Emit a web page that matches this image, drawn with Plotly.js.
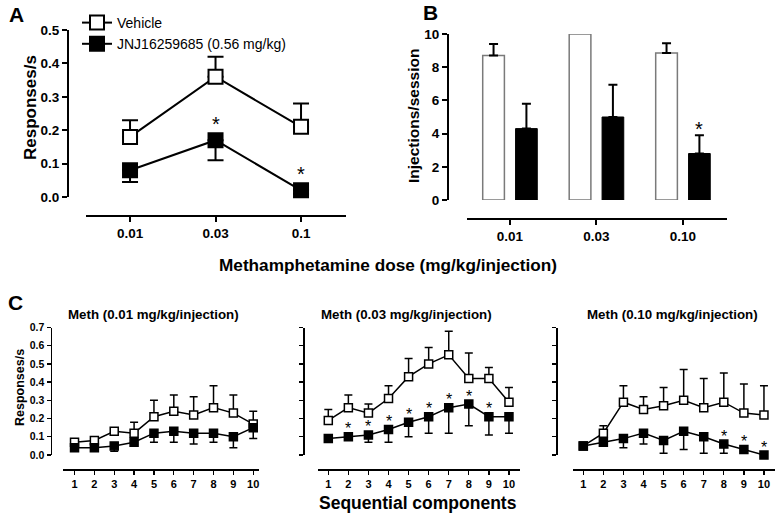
<!DOCTYPE html>
<html>
<head>
<meta charset="utf-8">
<script src="https://cdn.plot.ly/plotly-3.0.1.min.js"></script>
<style>html,body{margin:0;padding:0;background:#fff;}#chart{width:776px;height:513px;}</style>
</head>
<body>
<div id="chart"></div>
<script>
// ---------- DATA ----------
// Panel A: responses/s by meth dose
const doseLabelsA = ['0.01', '0.03', '0.1'];
const aVehMean = [0.18, 0.36, 0.21];
const aVehSem  = [0.05, 0.06, 0.07];
const aJnjMean = [0.08, 0.17, 0.02];
const aJnjSem  = [0.035, 0.06, 0.01];
const aSig     = [false, true, true];

// Panel B: injections/session
const doseLabelsB = ['0.01', '0.03', '0.10'];
const bVehMean = [8.7, 10.0, 8.85];
const bVehSem  = [0.7, 0, 0.6];
const bJnjMean = [4.3, 5.0, 2.8];
const bJnjSem  = [1.5, 1.95, 1.1];
const bSig     = [false, false, true];

// Panel C: sequential components
const components = [1, 2, 3, 4, 5, 6, 7, 8, 9, 10];
const cTitles = ['Meth (0.01 mg/kg/injection)', 'Meth (0.03 mg/kg/injection)', 'Meth (0.10 mg/kg/injection)'];
const c1VehMean = [0.07, 0.08, 0.13, 0.12, 0.21, 0.24, 0.22, 0.26, 0.23, 0.17];
const c1VehSem  = [0.01, 0.01, 0.01, 0.06, 0.09, 0.09, 0.10, 0.12, 0.10, 0.07];
const c1JnjMean = [0.04, 0.04, 0.05, 0.07, 0.12, 0.13, 0.12, 0.12, 0.10, 0.15];
const c1JnjSem  = [0.01, 0.01, 0.03, 0.01, 0.05, 0.06, 0.06, 0.05, 0.06, 0.06];
const c1Sig     = [0, 0, 0, 0, 0, 0, 0, 0, 0, 0];

const c2VehMean = [0.19, 0.26, 0.23, 0.31, 0.43, 0.50, 0.55, 0.42, 0.42, 0.29];
const c2VehSem  = [0.06, 0.07, 0.05, 0.07, 0.10, 0.09, 0.13, 0.14, 0.06, 0.08];
const c2JnjMean = [0.09, 0.10, 0.11, 0.14, 0.18, 0.21, 0.26, 0.28, 0.21, 0.21];
const c2JnjSem  = [0.01, 0.01, 0.04, 0.07, 0.08, 0.09, 0.14, 0.12, 0.10, 0.09];
const c2Sig     = [0, 1, 1, 1, 1, 1, 1, 1, 1, 0];

const c3VehMean = [0.05, 0.12, 0.29, 0.25, 0.27, 0.30, 0.26, 0.29, 0.23, 0.22];
const c3VehSem  = [0.01, 0.04, 0.09, 0.07, 0.10, 0.17, 0.16, 0.16, 0.16, 0.16];
const c3JnjMean = [0.05, 0.07, 0.09, 0.12, 0.08, 0.13, 0.10, 0.06, 0.03, 0.00];
const c3JnjSem  = [0.01, 0.01, 0.05, 0.06, 0.07, 0.10, 0.09, 0.05, 0.01, 0.01];
const c3Sig     = [0, 0, 0, 0, 0, 0, 0, 1, 1, 1];

// ---------- HELPERS ----------
const W = 776, H = 513;
const FONT = 'Liberation Sans, Arial, Helvetica, sans-serif';
const px = v => v / W;            // x pixel -> paper
const py = v => 1 - v / H;        // y pixel -> paper
const nz = v => (v > 0 ? v : NaN);

function errUp(sem, thick, w) {
  return {type: 'data', symmetric: false, array: sem.map(nz), arrayminus: sem.map(v => (v > 0 ? 0 : NaN)),
          color: '#000', thickness: thick, width: w};
}
function errDown(sem, thick, w) {
  return {type: 'data', symmetric: false, array: sem.map(v => (v > 0 ? 0 : NaN)), arrayminus: sem.map(nz),
          color: '#000', thickness: thick, width: w};
}

const traces = [];

// Panel A
traces.push({
  type: 'scatter', mode: 'lines+markers', name: 'Vehicle', x: doseLabelsA, y: aVehMean,
  xaxis: 'x', yaxis: 'y', cliponaxis: false,
  line: {color: '#000', width: 2},
  marker: {symbol: 'square', size: 14, color: '#fff', line: {color: '#000', width: 2}},
  error_y: errUp(aVehSem, 2, 8)
});
traces.push({
  type: 'scatter', mode: 'lines+markers', name: 'JNJ16259685 (0.56 mg/kg)', x: doseLabelsA, y: aJnjMean,
  xaxis: 'x', yaxis: 'y', cliponaxis: false,
  line: {color: '#000', width: 2},
  marker: {symbol: 'square', size: 14, color: '#000', line: {color: '#000', width: 2}},
  error_y: errDown(aJnjSem, 2, 8)
});

// Panel B
traces.push({
  type: 'bar', name: 'Vehicle', x: doseLabelsB, y: bVehMean, xaxis: 'x2', yaxis: 'y2', showlegend: false,
  marker: {color: '#fff', line: {color: '#7a7a7a', width: 1.5}},
  error_y: errUp(bVehSem, 2, 4.5)
});
traces.push({
  type: 'bar', name: 'JNJ16259685 (0.56 mg/kg)', x: doseLabelsB, y: bJnjMean, xaxis: 'x2', yaxis: 'y2', showlegend: false,
  marker: {color: '#000', line: {color: '#000', width: 1}},
  error_y: errUp(bJnjSem, 2, 4.5)
});

// Panel C
const cSets = [
  [c1VehMean, c1VehSem, c1JnjMean, c1JnjSem, c1Sig],
  [c2VehMean, c2VehSem, c2JnjMean, c2JnjSem, c2Sig],
  [c3VehMean, c3VehSem, c3JnjMean, c3JnjSem, c3Sig]
];
cSets.forEach((s, k) => {
  const xa = 'x' + (k + 3), ya = 'y' + (k + 3);
  traces.push({
    type: 'scatter', mode: 'lines+markers', name: 'Vehicle', x: components, y: s[0], xaxis: xa, yaxis: ya,
    showlegend: false, cliponaxis: false,
    line: {color: '#000', width: 1.5},
    marker: {symbol: 'square', size: 8, color: '#fff', line: {color: '#000', width: 1.5}},
    error_y: errUp(s[1], 1.5, 4)
  });
  traces.push({
    type: 'scatter', mode: 'lines+markers', name: 'JNJ16259685 (0.56 mg/kg)', x: components, y: s[2], xaxis: xa, yaxis: ya,
    showlegend: false, cliponaxis: false,
    line: {color: '#000', width: 1.5},
    marker: {symbol: 'square', size: 8, color: '#000', line: {color: '#000', width: 1.5}},
    error_y: errDown(s[3], 1.5, 4)
  });
});

// ---------- AXES ----------
function axBase(extra) {
  return Object.assign({
    showline: true, linecolor: '#000', showgrid: false, zeroline: false,
    ticks: 'outside', tickcolor: '#000', fixedrange: true,
    tickfont: {family: FONT, size: 13.5, color: '#000', weight: 'bold'}
  }, extra);
}

const layout = {
  width: W, height: H,
  margin: {l: 0, r: 0, t: 0, b: 0, pad: 0},
  paper_bgcolor: '#fff', plot_bgcolor: 'rgba(0,0,0,0)',
  font: {family: FONT, color: '#000'},
  barmode: 'group', bargap: 0.24, bargroupgap: 0.34,
  showlegend: true,
  legend: {x: px(77), y: py(7), xanchor: 'left', yanchor: 'top', bgcolor: 'rgba(0,0,0,0)',
           font: {family: FONT, size: 14, color: '#000'}, tracegroupgap: 0},
  // Panel A
  xaxis: axBase({domain: [px(86), px(346)], anchor: 'free', position: py(216), type: 'category',
                 range: [-0.515, 2.526], linewidth: 2, ticklen: 5, tickwidth: 2}),
  yaxis: axBase({domain: [py(197), py(30)], anchor: 'free', position: px(68), range: [0, 0.5],
                 tick0: 0, dtick: 0.1, tickformat: '.1f', linewidth: 2, ticklen: 5, tickwidth: 2}),
  // Panel B
  xaxis2: axBase({domain: [px(467), px(727)], anchor: 'free', position: py(218.5), type: 'category',
                  range: [-0.497, 2.509], linewidth: 2, ticklen: 5, tickwidth: 2}),
  yaxis2: axBase({domain: [py(200), py(34)], anchor: 'free', position: px(448), range: [0, 10],
                  tick0: 0, dtick: 2, linewidth: 2, ticklen: 5, tickwidth: 2}),
  annotations: [],
  shapes: []
};

const cX = [[63, 259, 0.42, 10.29, 50.5], [318, 520, 0.487, 10.55, 303.3], [573, 775, 0.487, 10.55, 556]];
cX.forEach((c, k) => {
  layout['xaxis' + (k + 3)] = axBase({
    domain: [px(c[0]), px(c[1])], anchor: 'free', position: py(469.3), range: [c[2], c[3]],
    tickmode: 'array', tickvals: components, linewidth: 1.6, ticklen: 4, tickwidth: 1.3,
    tickfont: {family: FONT, size: 11, color: '#000', weight: 'bold'}
  });
  layout['yaxis' + (k + 3)] = axBase({
    domain: [py(455), py(327.5)], anchor: 'free', position: px(c[4]), range: [0, 0.7],
    tick0: 0, dtick: 0.1, tickformat: '.1f', linewidth: 1.6, ticklen: 4, tickwidth: 1.3,
    showticklabels: k === 0,
    tickfont: {family: FONT, size: 10.5, color: '#000', weight: 'bold'}
  });
});

// ---------- TEXT ----------
const ann = layout.annotations;
function paperText(text, x, y, size, opts) {
  ann.push(Object.assign({xref: 'paper', yref: 'paper', x: px(x), y: py(y), text: text, showarrow: false,
    xanchor: 'center', yanchor: 'middle', font: {family: FONT, size: size, color: '#000', weight: 'bold'}}, opts || {}));
}
paperText('A', 16, 14, 21);
paperText('B', 430, 12, 21);
paperText('C', 15, 302, 21);
paperText('Responses/s', 30, 108, 17, {textangle: -90});
paperText('Injections/session', 413, 116, 15.5, {textangle: -90});
paperText('Methamphetamine dose (mg/kg/injection)', 388, 265, 17.2);
paperText('Responses/s', 20, 388, 12.5, {textangle: -90});
paperText('Sequential components', 418, 503, 17.5);
[153, 406, 672].forEach((x, k) => paperText(cTitles[k], x, 314, 13.3));

// asterisks (category axes: position by category index)
aSig.forEach((s, i) => {
  if (s) ann.push({xref: 'x', yref: 'y', x: i, y: aJnjMean[i], yshift: 16, text: '*', showarrow: false,
    font: {family: FONT, size: 20, color: '#000'}});
});
bSig.forEach((s, i) => {
  if (s) ann.push({xref: 'x2', yref: 'y2', x: i, y: bJnjMean[i] + bJnjSem[i], xshift: 16, yshift: 6,
    text: '*', showarrow: false, font: {family: FONT, size: 20, color: '#000'}});
});
cSets.forEach((s, k) => {
  s[4].forEach((flag, i) => {
    if (flag) ann.push({xref: 'x' + (k + 3), yref: 'y' + (k + 3), x: components[i], y: s[2][i], yshift: 8,
      text: '*', showarrow: false, font: {family: FONT, size: 16, color: '#000'}});
  });
});

Plotly.newPlot('chart', traces, layout, {displayModeBar: false, staticPlot: true});
</script>
</body>
</html>
